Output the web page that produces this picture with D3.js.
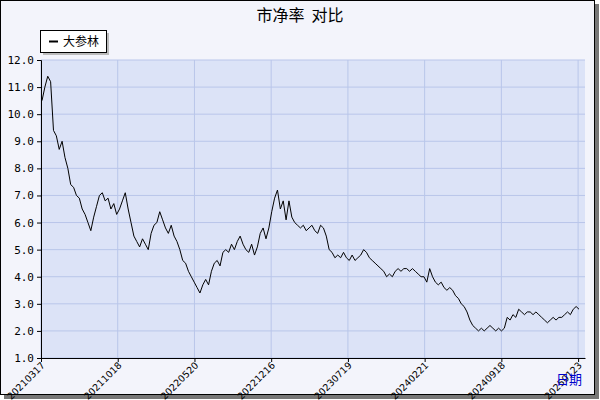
<!DOCTYPE html><html><head><meta charset="utf-8"><script src="https://cdn.jsdelivr.net/npm/d3@7"></script>
<style>body{margin:0;background:#fff}</style></head><body><svg id="c" width="600" height="400"></svg>
<script>
const title="市净率\u00a0\u00a0对比";
const seriesName="大参林";
const yTicks=[1,2,3,4,5,6,7,8,9,10,11,12];
const dateLabels=["20210317","20211018","20220520","20221216","20230719","20240221","20240918","20250123"];
const values=[10.5,11.0,11.4,11.2,9.4,9.2,8.7,9.0,8.4,8.0,7.4,7.3,7.0,6.9,6.5,6.3,6.0,5.7,6.2,6.6,7.0,7.1,6.8,6.9,6.5,6.7,6.3,6.5,6.8,7.1,6.5,6.0,5.5,5.3,5.1,5.4,5.2,5.0,5.6,5.9,6.0,6.4,6.1,5.8,5.6,5.9,5.5,5.3,5.0,4.6,4.5,4.2,4.0,3.8,3.6,3.4,3.7,3.9,3.7,4.2,4.5,4.6,4.4,4.9,5.0,4.9,5.2,5.0,5.3,5.5,5.2,5.0,4.9,5.2,4.8,5.1,5.6,5.8,5.4,5.8,6.4,6.9,7.2,6.5,6.8,6.1,6.8,6.2,6.0,5.9,5.8,5.9,5.7,5.8,5.9,5.7,5.6,5.9,5.8,5.5,5.0,4.9,4.7,4.8,4.7,4.9,4.7,4.6,4.8,4.6,4.7,4.8,5.0,4.9,4.7,4.6,4.5,4.4,4.3,4.2,4.0,4.1,4.0,4.2,4.3,4.2,4.3,4.3,4.2,4.3,4.2,4.1,4.0,4.0,3.8,4.3,4.0,3.8,3.7,3.8,3.6,3.5,3.6,3.5,3.3,3.2,3.0,2.9,2.7,2.4,2.2,2.1,2.0,2.1,2.0,2.1,2.2,2.1,2.0,2.1,2.0,2.1,2.5,2.4,2.6,2.5,2.8,2.7,2.6,2.7,2.7,2.6,2.7,2.6,2.5,2.4,2.3,2.4,2.5,2.4,2.5,2.5,2.6,2.7,2.6,2.8,2.9,2.8];
const svg=d3.select("#c");
const L=41,R=585,T=60,B=358;
svg.append("rect").attr("x",4).attr("y",4).attr("width",595).attr("height",395).attr("fill","#777");
svg.append("rect").attr("x",0.5).attr("y",0.5).attr("width",594).attr("height",394).attr("fill","#f3f4fb").attr("stroke","#000");
const y=d3.scaleLinear().domain([1,12]).range([B,T]);
const xt=d3.scaleLinear().domain([0,7.09]).range([L,R]);
const x=d3.scaleLinear().domain([0,values.length-1]).range([L+1,579]);
svg.append("rect").attr("x",L).attr("y",T).attr("width",R-L).attr("height",B-T).attr("fill","#dce3f7");
const g=svg.append("g");
yTicks.forEach(v=>g.append("line").attr("x1",L).attr("x2",R).attr("y1",y(v)).attr("y2",y(v)).attr("stroke","#b9c6ea"));
dateLabels.forEach((d,i)=>g.append("line").attr("x1",xt(i)).attr("x2",xt(i)).attr("y1",T).attr("y2",B).attr("stroke","#b9c6ea"));
svg.append("g").attr("transform",`translate(${L},0)`).call(d3.axisLeft(y).tickValues(yTicks).tickSize(4).tickFormat(d3.format(".1f")))
 .call(a=>{a.select(".domain").attr("stroke","#000");a.selectAll("text").attr("font-family","DejaVu Sans Mono").attr("font-size",11).attr("fill","#000");});
svg.append("g").attr("transform",`translate(0,${B})`).call(d3.axisBottom(xt).tickValues(d3.range(8)).tickSize(4).tickSizeOuter(0).tickFormat(i=>dateLabels[i]))
 .call(a=>{a.select(".domain").attr("stroke","#000");a.selectAll("text").attr("font-family","DejaVu Sans").attr("font-size",9.5).attr("fill","#000")
 .attr("text-anchor","end").attr("y",0).attr("dy",0).attr("transform","translate(4,8) rotate(-45)");});
svg.append("path").datum(values).attr("fill","none").attr("stroke","#000").attr("stroke-width",1)
 .attr("d",d3.line().x((d,i)=>x(i)).y(d=>y(d)));
svg.append("text").attr("x",300).attr("y",21).attr("text-anchor","middle").attr("font-size",16).attr("font-family","Noto Sans CJK SC").text(title);
svg.append("rect").attr("x",43).attr("y",33).attr("width",66).attr("height",22).attr("fill","#bbb");
svg.append("rect").attr("x",40.5).attr("y",30.5).attr("width",66).attr("height",22).attr("fill","#fff").attr("stroke","#000");
svg.append("line").attr("x1",49).attr("x2",58).attr("y1",41.5).attr("y2",41.5).attr("stroke","#000").attr("stroke-width",2);
svg.append("text").attr("x",63).attr("y",46).attr("font-size",12).attr("font-family","Noto Sans CJK SC").text(seriesName);
svg.append("text").attr("x",582).attr("y",384).attr("text-anchor","end").attr("font-size",13).attr("fill","#0000cc").attr("font-family","Noto Sans CJK SC").text("日期");
</script></body></html>
